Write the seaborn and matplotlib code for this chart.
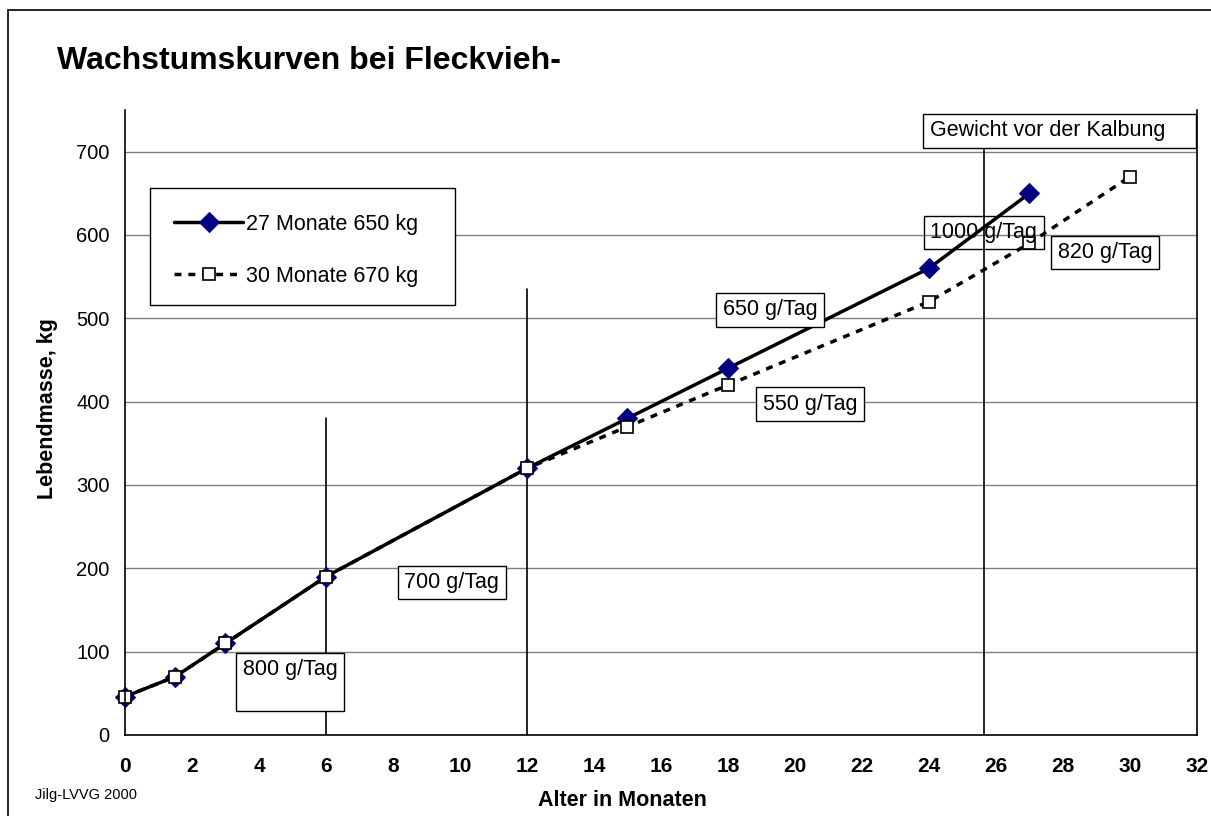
import seaborn as sns
import matplotlib.pyplot as plt
import matplotlib.patches as patches

# Wachstumskurven Fleckvieh
alter_27 = [0, 1.5, 3, 6, 12, 15, 18, 24, 27]
gewicht_27 = [46, 70, 110, 190, 320, 380, 440, 560, 650]
alter_30 = [0, 1.5, 3, 6, 12, 15, 18, 24, 27, 30]
gewicht_30 = [46, 70, 110, 190, 320, 370, 420, 520, 590, 670]

label_27 = '27 Monate 650 kg'
label_30 = '30 Monate 670 kg'

# senkrechte Linien (Monat, Hoehe)
trenn_x = [6, 12, 25.65]
trenn_top = [380, 535, 705]

# Textkaesten: Text, x, y, gefuellt
box_text = ['800 g/Tag\n', '700 g/Tag', '650 g/Tag', '550 g/Tag',
            '1000 g/Tag', '820 g/Tag', 'Gewicht vor der Kalbung    ']
box_x = [4.93, 9.76, 19.25, 20.45, 25.64, 29.25, 27.9]
box_y = [63.5, 183, 510, 397, 603, 579, 725]
box_fill = [True, True, True, True, False, True, True]

sns.set_style('white')
plt.rcParams['font.family'] = ['Liberation Sans', 'DejaVu Sans']
plt.rcParams['text.color'] = 'black'
plt.rcParams['axes.labelcolor'] = 'black'
plt.rcParams['xtick.color'] = 'black'
plt.rcParams['ytick.color'] = 'black'

fig = plt.figure(figsize=(12.11, 8.16), dpi=100)
ax = fig.add_axes([0.1032, 0.0993, 0.8852, 0.7659])

sns.lineplot(x=alter_27, y=gewicht_27, ax=ax, color='black', lw=2.5,
             marker='D', markersize=10, markerfacecolor='#000080',
             markeredgecolor='#000080', label=label_27, clip_on=False)
sns.lineplot(x=alter_30, y=gewicht_30, ax=ax, color='black', lw=2.5,
             linestyle=(0, (2, 2)), marker='s', markersize=8,
             markerfacecolor='white', markeredgecolor='black',
             markeredgewidth=1.2, label=label_30, clip_on=False)

for x, top in zip(trenn_x, trenn_top):
    ax.plot([x, x], [0, top], color='black', lw=1.2, zorder=1)

for t, x, y, f in zip(box_text, box_x, box_y, box_fill):
    ax.text(x, y, t, ha='center', va='center', fontsize=15.5, zorder=5,
            bbox=dict(boxstyle='square,pad=0.3', fc='white' if f else 'none',
                      ec='black', lw=1))

ax.set_xlim(0, 32)
ax.set_ylim(0, 750)
ax.set_xticks(range(0, 33, 2))
ax.set_yticks(range(0, 701, 100))
ax.yaxis.grid(True, color='#808080', lw=1)
ax.xaxis.grid(False)
ax.set_axisbelow(True)
for s in ['left', 'bottom', 'right']:
    ax.spines[s].set_color('black')
    ax.spines[s].set_linewidth(1.2)
ax.spines['top'].set_visible(False)

ax.tick_params(axis='both', direction='inout', length=8, width=1.2, colors='black')
ax.tick_params(axis='x', pad=12, labelsize=15)
ax.tick_params(axis='y', pad=7, labelsize=14.5)
for lab in ax.get_xticklabels():
    lab.set_fontweight('bold')

ax.set_xlabel('Alter in Monaten', fontsize=15.5, fontweight='bold')
ax.xaxis.set_label_coords(0.4636, -0.088)
ax.set_ylabel('Lebendmasse, kg', fontsize=15.5, fontweight='bold')
ax.yaxis.set_label_coords(-0.0625, 0.522)

# Legendenkasten
ax.add_patch(patches.Rectangle((0.0233, 0.688), 0.285, 0.187, transform=ax.transAxes,
                               fc='white', ec='black', lw=1, zorder=4))
leg = ax.legend(loc='upper left', bbox_to_anchor=(0.038, 0.848), fontsize=15.5,
                frameon=False, handlelength=3.2, labelspacing=1.45,
                borderpad=0.4, handletextpad=0.15, borderaxespad=0)
leg.set_zorder(6)

fig.text(57 / 1211, 1 - 46 / 816, 'Wachstumskurven bei Fleckvieh-',
         fontsize=23, fontweight='bold', va='top', ha='left')
fig.text(35 / 1211, 1 - 795 / 816, 'Jilg-LVVG 2000', fontsize=10.5,
         va='center', ha='left')

fig.patches.append(patches.Rectangle((8 / 1211, -0.05), 1.1, 1 - 10 / 816 + 0.05,
                                     transform=fig.transFigure, fill=False,
                                     lw=1.2, ec='black'))

fig.savefig('out.png', dpi=100)
